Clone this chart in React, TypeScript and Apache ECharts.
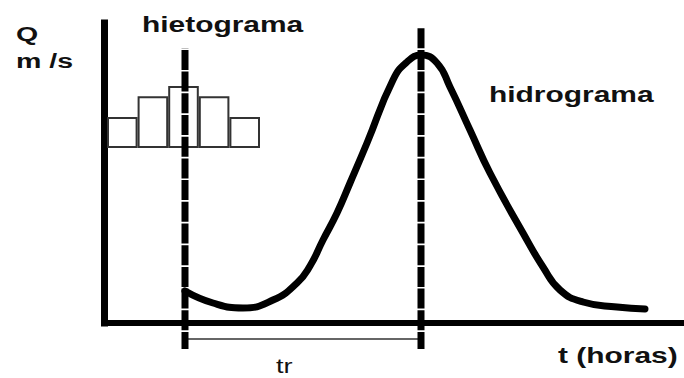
import { useEffect, useRef } from "react";
import * as echarts from "echarts";

// Hydrograph: time (hours) and discharge
const hydroHours = [4.05, 5.45, 6.95, 8.45, 9.65, 10.3, 10.95, 11.65, 12.3, 13.15, 14.45, 15.15, 15.85, 16.65, 17.3, 18.3, 19.3, 20.95, 21.95, 22.8, 23.95, 25.65, 27.05];
const hydroFlow = [3.2, 2.0, 1.5, 2.3, 4.0, 5.7, 8.3, 11.0, 14.0, 18.0, 24.3, 26.1, 26.8, 26.0, 23.6, 19.3, 15.0, 9.0, 5.6, 3.3, 2.1, 1.6, 1.4];

// Hyetograph: rainfall blocks
const rainBlocks = ["1", "2", "3", "4", "5"];
const rainDepth = [3, 5, 6, 5, 3];

// Vertical guides: rainfall centroid and hydrograph peak
const guideHours = [4.05, 15.85];
const guideTops = [27.5, 29.5];
const guideBottom = -2.6;

// Lag time bracket (tr)
const lagLevel = -1.6;

const FONT = '"Liberation Sans", Arial, Helvetica, sans-serif';

function label(text: string, x: number, y: number, size: number, weight: string) {
  return {
    type: "text",
    x,
    y,
    scaleX: 1.36,
    silent: true,
    style: {
      text,
      fill: "#111",
      fontSize: size,
      fontWeight: weight,
      fontFamily: FONT,
      align: "left",
      verticalAlign: "middle",
    },
  };
}

export default function App() {
  const ref = useRef<HTMLDivElement>(null);

  useEffect(() => {
    const chart = echarts.init(ref.current!, null, { renderer: "svg" });
    const hiddenAxis = {
      axisTick: { show: false },
      axisLabel: { show: false },
      splitLine: { show: false },
    };
    chart.setOption({
      animation: false,
      backgroundColor: "#fff",
      grid: [
        { left: 104, right: 0, top: 23, bottom: 55 },
        { left: 107, width: 153, top: 86, height: 62 },
      ],
      xAxis: [
        {
          gridIndex: 0,
          type: "value",
          min: 0,
          max: 29,
          axisLine: { show: true, onZero: false, lineStyle: { color: "#000", width: 6, cap: "square" } },
          ...hiddenAxis,
        },
        { gridIndex: 1, type: "category", data: rainBlocks, show: false },
      ],
      yAxis: [
        {
          gridIndex: 0,
          type: "value",
          min: 0,
          max: 30,
          axisLine: { show: true, onZero: false, lineStyle: { color: "#000", width: 7, cap: "square" } },
          ...hiddenAxis,
        },
        { gridIndex: 1, type: "value", min: 0, max: 6, show: false },
      ],
      series: [
        {
          name: "hietograma",
          type: "bar",
          xAxisIndex: 1,
          yAxisIndex: 1,
          data: rainDepth,
          barCategoryGap: "0%",
          itemStyle: { color: "#fff", borderColor: "#333", borderWidth: 2 },
          silent: true,
          z: 2,
        },
        {
          name: "hidrograma",
          type: "line",
          xAxisIndex: 0,
          yAxisIndex: 0,
          data: hydroHours.map((h, i) => [h, hydroFlow[i]]),
          smooth: 0.5,
          showSymbol: false,
          lineStyle: { color: "#000", width: 7, cap: "round", join: "round" },
          silent: true,
          z: 3,
        },
        {
          name: "guias",
          type: "custom",
          xAxisIndex: 0,
          yAxisIndex: 0,
          data: guideHours.map((h, i) => [h, guideTops[i], guideBottom]),
          encode: { x: 0, y: [1, 2] },
          silent: true,
          z: 5,
          renderItem: (_params: any, api: any) => {
            const top = api.coord([api.value(0), api.value(1)]);
            const bottom = api.coord([api.value(0), api.value(2)]);
            return {
              type: "line",
              shape: { x1: bottom[0], y1: bottom[1], x2: top[0], y2: top[1] },
              style: { stroke: "#000", lineWidth: 7, lineDash: [20, 1.7], lineDashOffset: 3.3 },
            };
          },
        },
        {
          name: "tr",
          type: "custom",
          xAxisIndex: 0,
          yAxisIndex: 0,
          data: [[guideHours[0], guideHours[1], lagLevel]],
          encode: { x: [0, 1], y: 2 },
          silent: true,
          z: 4,
          renderItem: (_params: any, api: any) => {
            const a = api.coord([api.value(0), api.value(2)]);
            const b = api.coord([api.value(1), api.value(2)]);
            return {
              type: "line",
              shape: { x1: a[0], y1: a[1], x2: b[0], y2: b[1] },
              style: { stroke: "#333", lineWidth: 1.6 },
            };
          },
        },
      ],
      graphic: [
        label("Q", 16, 33.7, 21, "bold"),
        label("m /s", 16, 60.5, 21, "bold"),
        label("hietograma", 142, 24.4, 22, "bold"),
        label("hidrograma", 489, 94.4, 22, "bold"),
        label("t (horas)", 558, 355.4, 22, "bold"),
        label("tr", 276, 366, 20, "normal"),
      ],
    });
    return () => chart.dispose();
  }, []);

  return (
    <div
      ref={ref}
      style={{ position: "absolute", left: 0, top: 0, width: 684, height: 378, background: "#fff" }}
    />
  );
}
